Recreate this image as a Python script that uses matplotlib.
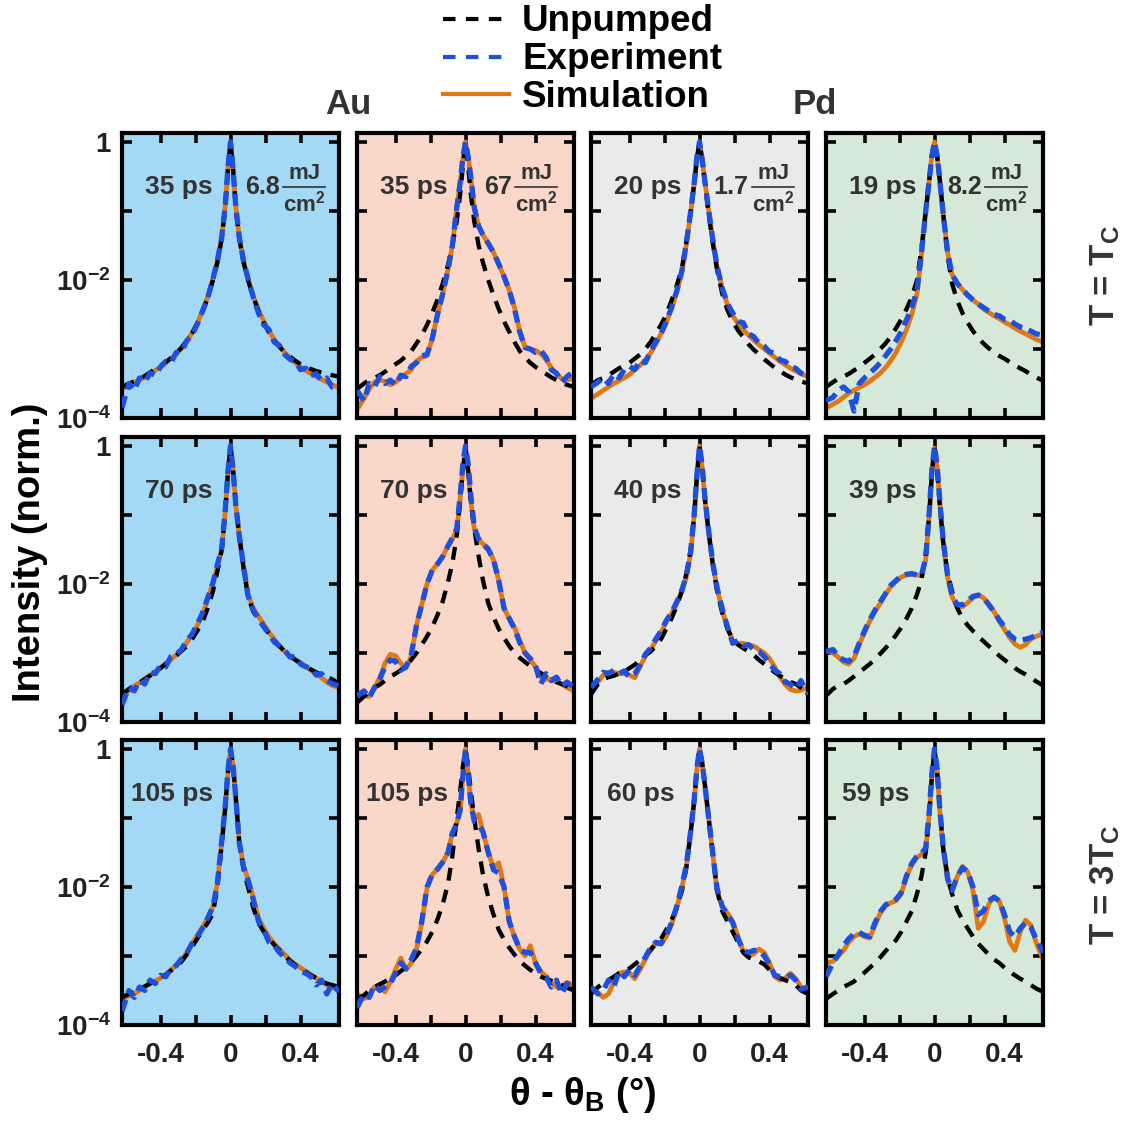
"""
Rocking curves of Au and Pd after optical pumping: unpumped, measured and simulated.
Output: out.png
"""
import matplotlib; matplotlib.use('Agg')
import matplotlib.pyplot as plt
from matplotlib.lines import Line2D
import numpy as np

plt.rcParams['font.family'] = 'Liberation Sans'
plt.rcParams['font.weight'] = 'bold'
plt.rcParams['mathtext.fontset'] = 'custom'
plt.rcParams['mathtext.rm'] = 'Liberation Sans:bold'
plt.rcParams['mathtext.it'] = 'Liberation Sans:bold'
plt.rcParams['mathtext.bf'] = 'Liberation Sans:bold'

# angle grid (deg), shared by every curve
theta = [
    -0.62, -0.58, -0.55, -0.52, -0.49, -0.46, -0.43, -0.40, -0.37, -0.34, -0.31,
    -0.28, -0.25, -0.22, -0.19, -0.16, -0.13, -0.10, -0.075, -0.05, -0.03, -0.015,
    0.0,
    0.015, 0.03, 0.05, 0.075, 0.10, 0.13, 0.16, 0.19, 0.22, 0.25, 0.28,
    0.31, 0.34, 0.37, 0.40, 0.43, 0.46, 0.49, 0.52, 0.55, 0.58, 0.62]

# log10 of normalised intensity
# ---- T = Tc, first delay ----
au_lo_35_unp = [
    -3.55, -3.5, -3.47, -3.44, -3.39, -3.34, -3.29, -3.24, -3.19, -3.13, -3.06,
    -2.98, -2.88, -2.77, -2.63, -2.46, -2.26, -2.0, -1.75, -1.4, -0.95, -0.4,
    0.0,
    -0.4, -0.95, -1.4, -1.75, -2.0, -2.25, -2.45, -2.62, -2.76, -2.88, -2.97,
    -3.05, -3.11, -3.17, -3.22, -3.26, -3.29, -3.32, -3.34, -3.36, -3.38, -3.4]
au_lo_35_exp = [
    -3.85, -3.5, -3.6, -3.42, -3.48, -3.35, -3.38, -3.26, -3.18, -3.2, -3.05,
    -3.04, -2.88, -2.8, -2.64, -2.45, -2.26, -1.98, -1.72, -1.38, -0.92, -0.38,
    0.0,
    -0.4, -0.93, -1.38, -1.73, -1.98, -2.25, -2.48, -2.65, -2.72, -2.9, -2.95,
    -3.08, -3.15, -3.18, -3.3, -3.28, -3.38, -3.36, -3.46, -3.42, -3.55, -3.52]
au_lo_35_sim = [
    -3.58, -3.52, -3.48, -3.45, -3.41, -3.36, -3.31, -3.26, -3.2, -3.14, -3.07,
    -2.99, -2.89, -2.77, -2.63, -2.45, -2.24, -1.98, -1.72, -1.38, -0.92, -0.4,
    0.0,
    -0.4, -0.93, -1.38, -1.73, -1.98, -2.23, -2.43, -2.6, -2.74, -2.86, -2.96,
    -3.05, -3.13, -3.2, -3.26, -3.31, -3.36, -3.4, -3.44, -3.48, -3.52, -3.56]

au_hi_35_unp = [
    -3.58, -3.5, -3.45, -3.42, -3.38, -3.33, -3.27, -3.22, -3.17, -3.1, -3.03,
    -2.92, -2.8, -2.65, -2.48, -2.28, -2.05, -1.78, -1.5, -1.15, -0.75, -0.35,
    0.0,
    -0.35, -0.75, -1.15, -1.5, -1.75, -2.0, -2.22, -2.42, -2.6, -2.75, -2.9,
    -3.03, -3.12, -3.2, -3.26, -3.31, -3.36, -3.41, -3.45, -3.49, -3.52, -3.55]
au_hi_35_exp = [
    -3.6, -3.75, -3.5, -3.55, -3.4, -3.5, -3.45, -3.52, -3.38, -3.4, -3.25,
    -3.2, -3.1, -3.08, -2.85, -2.5, -2.2, -1.85, -1.5, -0.95, -0.58, -0.22,
    0.0,
    -0.22, -0.5, -0.95, -1.22, -1.35, -1.47, -1.6, -1.77, -1.95, -2.15, -2.42,
    -2.75, -2.98, -3.0, -3.05, -3.02, -3.12, -3.3, -3.35, -3.48, -3.4, -3.32]
au_hi_35_sim = [
    -3.88, -3.72, -3.58, -3.48, -3.45, -3.47, -3.52, -3.48, -3.42, -3.36, -3.3,
    -3.18, -3.12, -3.1, -2.85, -2.5, -2.2, -1.85, -1.5, -0.95, -0.58, -0.25,
    0.0,
    -0.2, -0.5, -0.95, -1.22, -1.35, -1.47, -1.6, -1.77, -1.95, -2.15, -2.4,
    -2.75, -2.97, -3.0, -3.02, -3.07, -3.15, -3.27, -3.36, -3.43, -3.45, -3.42]

pd_lo_20_unp = [
    -3.52, -3.45, -3.42, -3.38, -3.33, -3.28, -3.24, -3.2, -3.14, -3.08, -3.0,
    -2.9, -2.78, -2.65, -2.5, -2.3, -2.08, -1.82, -1.45, -1.0, -0.6, -0.25,
    0.0,
    -0.25, -0.58, -1.0, -1.45, -1.85, -2.2, -2.44, -2.6, -2.73, -2.83, -2.93,
    -3.01, -3.08, -3.15, -3.21, -3.27, -3.32, -3.37, -3.41, -3.44, -3.47, -3.5]
pd_lo_20_exp = [
    -3.55, -3.48, -3.42, -3.5, -3.36, -3.42, -3.3, -3.25, -3.3, -3.16, -3.2,
    -3.04, -2.9, -2.78, -2.6, -2.4, -2.16, -1.86, -1.46, -1.0, -0.58, -0.22,
    0.0,
    -0.25, -0.55, -0.95, -1.4, -1.8, -2.12, -2.34, -2.48, -2.6, -2.62, -2.78,
    -2.82, -2.92, -2.96, -3.04, -3.06, -3.16, -3.18, -3.26, -3.28, -3.35, -3.38]
pd_lo_20_sim = [
    -3.72, -3.65, -3.6, -3.55, -3.5, -3.46, -3.42, -3.37, -3.3, -3.24, -3.16,
    -3.06, -2.93, -2.78, -2.62, -2.42, -2.18, -1.88, -1.48, -1.02, -0.6, -0.25,
    0.0,
    -0.25, -0.55, -0.95, -1.4, -1.8, -2.12, -2.36, -2.52, -2.63, -2.72, -2.8,
    -2.87, -2.94, -3.0, -3.06, -3.12, -3.18, -3.23, -3.28, -3.32, -3.36, -3.4]

pd_hi_19_unp = [
    -3.55, -3.48, -3.43, -3.4, -3.36, -3.31, -3.26, -3.2, -3.14, -3.08, -3.0,
    -2.92, -2.82, -2.7, -2.57, -2.42, -2.25, -2.0, -1.55, -1.0, -0.55, -0.2,
    0.0,
    -0.2, -0.55, -1.05, -1.65, -2.05, -2.3, -2.48, -2.62, -2.74, -2.84, -2.92,
    -2.99, -3.05, -3.1, -3.14, -3.19, -3.24, -3.28, -3.32, -3.37, -3.41, -3.46]
pd_hi_19_exp = [
    -3.75, -3.7, -3.6, -3.55, -3.62, -3.9, -3.5, -3.42, -3.35, -3.28, -3.2,
    -3.1, -3.0, -2.88, -2.75, -2.58, -2.4, -2.15, -1.62, -1.0, -0.55, -0.2,
    0.0,
    -0.2, -0.55, -1.05, -1.6, -1.92, -2.05, -2.14, -2.22, -2.29, -2.35, -2.4,
    -2.45, -2.5, -2.52, -2.57, -2.58, -2.64, -2.68, -2.7, -2.74, -2.78, -2.8]
pd_hi_19_sim = [
    -3.86, -3.8, -3.76, -3.7, -3.64, -3.6, -3.56, -3.52, -3.47, -3.41, -3.35,
    -3.27, -3.17, -3.05, -2.9, -2.72, -2.5, -2.2, -1.65, -1.0, -0.55, -0.2,
    0.0,
    -0.2, -0.55, -1.05, -1.6, -1.92, -2.05, -2.14, -2.22, -2.29, -2.35, -2.42,
    -2.47, -2.52, -2.56, -2.61, -2.65, -2.7, -2.74, -2.78, -2.82, -2.86, -2.9]

# ---- second delay ----
au_lo_70_unp = [
    -3.6, -3.52, -3.47, -3.43, -3.38, -3.33, -3.28, -3.22, -3.16, -3.1, -3.04,
    -2.97, -2.9, -2.8, -2.68, -2.55, -2.35, -2.1, -1.82, -1.5, -0.95, -0.4,
    0.0,
    -0.35, -0.85, -1.3, -1.78, -2.18, -2.4, -2.52, -2.62, -2.72, -2.82, -2.9,
    -2.98, -3.04, -3.1, -3.15, -3.2, -3.24, -3.28, -3.32, -3.35, -3.38, -3.44]
au_lo_70_exp = [
    -3.75, -3.5, -3.55, -3.4, -3.45, -3.28, -3.3, -3.18, -3.2, -3.05, -3.02,
    -2.95, -2.82, -2.73, -2.58, -2.42, -2.2, -1.98, -1.72, -1.48, -0.92, -0.38,
    0.0,
    -0.35, -0.85, -1.3, -1.75, -2.17, -2.38, -2.5, -2.62, -2.72, -2.84, -2.9,
    -2.96, -3.06, -3.05, -3.16, -3.2, -3.22, -3.32, -3.3, -3.4, -3.44, -3.48]
au_lo_70_sim = [
    -3.62, -3.55, -3.48, -3.43, -3.37, -3.32, -3.27, -3.21, -3.15, -3.09, -3.03,
    -2.95, -2.85, -2.73, -2.6, -2.45, -2.22, -1.98, -1.75, -1.5, -0.95, -0.4,
    0.0,
    -0.35, -0.85, -1.3, -1.75, -2.15, -2.35, -2.47, -2.58, -2.7, -2.8, -2.9,
    -2.98, -3.04, -3.09, -3.14, -3.19, -3.25, -3.3, -3.36, -3.42, -3.47, -3.5]

au_hi_70_unp = [
    -3.72, -3.63, -3.57, -3.5, -3.46, -3.4, -3.34, -3.3, -3.25, -3.18, -3.1,
    -3.0, -2.88, -2.76, -2.62, -2.45, -2.25, -1.97, -1.7, -1.3, -0.8, -0.35,
    0.0,
    -0.35, -0.8, -1.2, -1.6, -1.95, -2.28, -2.48, -2.65, -2.78, -2.9, -3.0,
    -3.07, -3.13, -3.19, -3.25, -3.29, -3.34, -3.39, -3.42, -3.45, -3.48, -3.52]
au_hi_70_exp = [
    -3.62, -3.55, -3.65, -3.5, -3.38, -3.2, -3.1, -3.12, -3.25, -3.2, -3.02,
    -2.6, -2.3, -2.0, -1.8, -1.71, -1.6, -1.45, -1.33, -1.2, -0.7, -0.25,
    0.0,
    -0.25, -0.7, -1.18, -1.35, -1.42, -1.5, -1.65, -1.95, -2.35, -2.5, -2.65,
    -2.85, -3.0, -3.08, -3.18, -3.45, -3.3, -3.4, -3.35, -3.48, -3.42, -3.5]
au_hi_70_sim = [
    -3.57, -3.62, -3.63, -3.5, -3.36, -3.15, -3.02, -3.04, -3.15, -3.22, -3.05,
    -2.6, -2.3, -2.0, -1.8, -1.71, -1.6, -1.45, -1.35, -1.22, -0.75, -0.35,
    -0.1,
    -0.35, -0.78, -1.2, -1.35, -1.42, -1.48, -1.65, -1.95, -2.35, -2.5, -2.63,
    -2.82, -3.0, -3.1, -3.2, -3.35, -3.38, -3.38, -3.42, -3.45, -3.5, -3.55]

pd_lo_40_unp = [
    -3.6, -3.45, -3.38, -3.35, -3.33, -3.3, -3.27, -3.22, -3.17, -3.1, -3.03,
    -2.98, -2.9, -2.8, -2.65, -2.5, -2.32, -2.1, -1.85, -1.5, -1.0, -0.45,
    0.0,
    -0.3, -0.75, -1.2, -1.7, -2.1, -2.42, -2.65, -2.8, -2.88, -2.93, -2.98,
    -3.03, -3.1, -3.16, -3.22, -3.28, -3.33, -3.38, -3.42, -3.45, -3.5, -3.55]
pd_lo_40_exp = [
    -3.5, -3.38, -3.28, -3.3, -3.25, -3.3, -3.26, -3.35, -3.3, -3.18, -3.02,
    -2.93, -2.8, -2.68, -2.53, -2.42, -2.26, -2.08, -1.88, -1.52, -0.98, -0.42,
    0.0,
    -0.28, -0.72, -1.18, -1.68, -2.05, -2.36, -2.62, -2.86, -2.82, -2.9, -2.88,
    -2.95, -2.98, -3.05, -3.15, -3.25, -3.3, -3.42, -3.45, -3.52, -3.4, -3.6]
pd_lo_40_sim = [
    -3.57, -3.42, -3.32, -3.28, -3.28, -3.3, -3.3, -3.32, -3.36, -3.2, -3.05,
    -2.95, -2.83, -2.7, -2.55, -2.43, -2.28, -2.1, -1.9, -1.55, -1.0, -0.45,
    0.0,
    -0.3, -0.75, -1.2, -1.7, -2.05, -2.38, -2.65, -2.82, -2.86, -2.86, -2.88,
    -2.9, -2.95, -3.0, -3.08, -3.2, -3.35, -3.46, -3.53, -3.55, -3.54, -3.5]

pd_hi_39_unp = [
    -3.62, -3.52, -3.48, -3.45, -3.4, -3.34, -3.28, -3.22, -3.16, -3.09, -3.01,
    -2.93, -2.84, -2.74, -2.63, -2.5, -2.35, -2.15, -1.95, -1.55, -1.0, -0.4,
    0.0,
    -0.35, -0.85, -1.4, -1.85, -2.1, -2.35, -2.5, -2.6, -2.68, -2.76, -2.83,
    -2.9, -2.97, -3.04, -3.1, -3.16, -3.22, -3.27, -3.31, -3.36, -3.41, -3.47]
pd_hi_39_exp = [
    -2.98, -2.95, -3.05, -3.1, -3.12, -3.05, -2.86, -2.68, -2.52, -2.38, -2.26,
    -2.14, -2.02, -1.95, -1.88, -1.86, -1.85, -1.87, -1.88, -1.62, -0.95, -0.35,
    0.0,
    -0.28, -0.78, -1.38, -1.88, -2.16, -2.3, -2.3, -2.24, -2.18, -2.16, -2.2,
    -2.3, -2.4, -2.52, -2.62, -2.74, -2.8, -2.82, -2.8, -2.78, -2.74, -2.7]
pd_hi_39_sim = [
    -2.95, -3.0, -3.06, -3.13, -3.16, -3.08, -2.88, -2.7, -2.54, -2.4, -2.28,
    -2.15, -2.04, -1.96, -1.9, -1.87, -1.86, -1.87, -1.88, -1.65, -1.0, -0.4,
    -0.03,
    -0.3, -0.8, -1.4, -1.9, -2.18, -2.34, -2.33, -2.27, -2.2, -2.16, -2.2,
    -2.29, -2.4, -2.54, -2.66, -2.78, -2.87, -2.92, -2.88, -2.8, -2.76, -2.72]

# ---- T = 3Tc, third delay ----
au_lo_105_unp = [
    -3.6, -3.55, -3.52, -3.48, -3.44, -3.4, -3.36, -3.32, -3.27, -3.21, -3.15,
    -3.08, -2.98, -2.87, -2.75, -2.63, -2.52, -2.38, -2.0, -1.38, -0.85, -0.35,
    0.0,
    -0.25, -0.7, -1.35, -1.75, -2.0, -2.3, -2.52, -2.65, -2.75, -2.84, -2.92,
    -3.0, -3.07, -3.13, -3.18, -3.23, -3.28, -3.32, -3.36, -3.4, -3.42, -3.45]
au_lo_105_exp = [
    -3.8, -3.5, -3.6, -3.45, -3.5, -3.35, -3.4, -3.28, -3.3, -3.18, -3.14,
    -3.04, -2.96, -2.82, -2.72, -2.6, -2.45, -2.28, -1.95, -1.33, -0.82, -0.32,
    0.0,
    -0.25, -0.7, -1.35, -1.72, -1.9, -2.18, -2.5, -2.62, -2.8, -2.85, -2.95,
    -3.02, -3.1, -3.15, -3.22, -3.25, -3.3, -3.42, -3.35, -3.55, -3.4, -3.52]
au_lo_105_sim = [
    -3.62, -3.58, -3.55, -3.5, -3.45, -3.4, -3.36, -3.32, -3.27, -3.2, -3.13,
    -3.06, -2.95, -2.82, -2.7, -2.58, -2.45, -2.28, -1.95, -1.35, -0.85, -0.35,
    0.0,
    -0.25, -0.7, -1.35, -1.7, -1.88, -2.15, -2.45, -2.6, -2.72, -2.82, -2.9,
    -2.98, -3.06, -3.12, -3.17, -3.22, -3.27, -3.32, -3.37, -3.42, -3.45, -3.5]

au_hi_105_unp = [
    -3.62, -3.57, -3.5, -3.45, -3.41, -3.37, -3.32, -3.28, -3.22, -3.16, -3.09,
    -3.0, -2.9, -2.79, -2.65, -2.47, -2.25, -1.95, -1.55, -1.0, -0.6, -0.25,
    0.0,
    -0.25, -0.6, -1.0, -1.45, -1.82, -2.15, -2.4, -2.62, -2.76, -2.88, -2.98,
    -3.07, -3.14, -3.2, -3.26, -3.3, -3.33, -3.36, -3.39, -3.42, -3.46, -3.5]
au_hi_105_exp = [
    -3.75, -3.55, -3.6, -3.42, -3.5, -3.45, -3.4, -3.25, -3.1, -3.18, -3.05,
    -2.88, -2.5, -2.0, -1.82, -1.74, -1.64, -1.5, -1.22, -1.08, -0.88, -0.38,
    0.0,
    -0.35, -0.78, -1.05, -1.1, -1.2, -1.5, -1.75, -1.8, -2.0, -2.5, -2.72,
    -2.9, -2.95, -2.95, -3.1, -3.25, -3.3, -3.45, -3.35, -3.55, -3.4, -3.42]
au_hi_105_sim = [
    -3.55, -3.62, -3.57, -3.45, -3.42, -3.52, -3.38, -3.2, -3.03, -3.2, -3.1,
    -2.9, -2.52, -2.02, -1.82, -1.74, -1.64, -1.5, -1.22, -1.08, -0.88, -0.4,
    0.0,
    -0.35, -0.78, -1.0, -0.95, -1.2, -1.5, -1.72, -1.65, -2.0, -2.5, -2.72,
    -2.9, -3.0, -2.85, -3.1, -3.22, -3.3, -3.38, -3.45, -3.45, -3.38, -3.45]

pd_lo_60_unp = [
    -3.55, -3.45, -3.4, -3.35, -3.3, -3.25, -3.22, -3.18, -3.12, -3.06, -3.0,
    -2.92, -2.82, -2.75, -2.62, -2.48, -2.3, -2.05, -1.72, -1.2, -0.75, -0.3,
    0.0,
    -0.2, -0.5, -0.95, -1.5, -2.05, -2.35, -2.5, -2.65, -2.8, -2.95, -3.02,
    -3.05, -3.08, -3.12, -3.2, -3.28, -3.32, -3.35, -3.38, -3.42, -3.5, -3.55]
pd_lo_60_exp = [
    -3.45, -3.55, -3.5, -3.35, -3.45, -3.22, -3.3, -3.2, -3.28, -3.15, -3.02,
    -2.88, -2.8, -2.82, -2.7, -2.52, -2.28, -1.98, -1.68, -1.18, -0.72, -0.28,
    0.0,
    -0.2, -0.5, -0.95, -1.5, -2.02, -2.28, -2.4, -2.52, -2.75, -2.92, -2.95,
    -2.92, -2.92, -3.0, -3.12, -3.28, -3.3, -3.3, -3.28, -3.35, -3.48, -3.45]
pd_lo_60_sim = [
    -3.5, -3.53, -3.6, -3.55, -3.38, -3.25, -3.23, -3.25, -3.33, -3.2, -3.05,
    -2.9, -2.82, -2.83, -2.72, -2.55, -2.3, -2.0, -1.7, -1.2, -0.75, -0.3,
    0.0,
    -0.2, -0.5, -0.95, -1.5, -2.05, -2.28, -2.38, -2.5, -2.72, -2.93, -3.0,
    -2.97, -2.9, -2.95, -3.1, -3.3, -3.35, -3.32, -3.25, -3.33, -3.45, -3.5]

pd_hi_59_unp = [
    -3.62, -3.55, -3.5, -3.45, -3.41, -3.37, -3.3, -3.24, -3.17, -3.1, -3.02,
    -2.93, -2.85, -2.77, -2.65, -2.5, -2.35, -2.1, -1.85, -1.5, -0.95, -0.4,
    0.0,
    -0.35, -0.85, -1.45, -1.85, -2.1, -2.33, -2.48, -2.6, -2.72, -2.82, -2.9,
    -2.98, -3.05, -3.1, -3.17, -3.23, -3.28, -3.33, -3.37, -3.42, -3.47, -3.52]
pd_hi_59_exp = [
    -3.3, -3.1, -2.98, -2.85, -2.75, -2.68, -2.66, -2.7, -2.72, -2.52, -2.36,
    -2.26, -2.22, -2.18, -2.08, -1.84, -1.66, -1.55, -1.52, -1.43, -0.9, -0.35,
    0.0,
    -0.28, -0.85, -1.42, -1.88, -2.05, -1.85, -1.72, -1.78, -2.0, -2.4, -2.35,
    -2.2, -2.15, -2.2, -2.4, -2.65, -2.72, -2.6, -2.52, -2.58, -2.75, -2.95]
pd_hi_59_sim = [
    -3.1, -3.08, -3.0, -2.92, -2.8, -2.72, -2.68, -2.72, -2.74, -2.55, -2.38,
    -2.27, -2.23, -2.2, -2.1, -1.85, -1.68, -1.57, -1.53, -1.45, -0.95, -0.4,
    -0.03,
    -0.3, -0.9, -1.45, -1.9, -2.07, -1.85, -1.7, -1.78, -2.05, -2.6, -2.5,
    -2.25, -2.14, -2.2, -2.45, -2.8, -2.92, -2.65, -2.48, -2.55, -2.8, -3.05]

delays = [['35 ps', '35 ps', '20 ps', '19 ps'],
          ['70 ps', '70 ps', '40 ps', '39 ps'],
          ['105 ps', '105 ps', '60 ps', '59 ps']]
fluences = ['6.8', '67', '1.7', '8.2']

curves = [
    [(au_lo_35_unp, au_lo_35_exp, au_lo_35_sim), (au_hi_35_unp, au_hi_35_exp, au_hi_35_sim),
     (pd_lo_20_unp, pd_lo_20_exp, pd_lo_20_sim), (pd_hi_19_unp, pd_hi_19_exp, pd_hi_19_sim)],
    [(au_lo_70_unp, au_lo_70_exp, au_lo_70_sim), (au_hi_70_unp, au_hi_70_exp, au_hi_70_sim),
     (pd_lo_40_unp, pd_lo_40_exp, pd_lo_40_sim), (pd_hi_39_unp, pd_hi_39_exp, pd_hi_39_sim)],
    [(au_lo_105_unp, au_lo_105_exp, au_lo_105_sim), (au_hi_105_unp, au_hi_105_exp, au_hi_105_sim),
     (pd_lo_60_unp, pd_lo_60_exp, pd_lo_60_sim), (pd_hi_59_unp, pd_hi_59_exp, pd_hi_59_sim)],
]

bg = ['#a4d9f5', '#f9d8ca', '#e9eaea', '#d6e8d7']
BLUE = '#1f50dc'
ORANGE = '#e07814'
TXT = '#333333'

W, H = 1130, 1121
fig = plt.figure(figsize=(W / 100, H / 100), dpi=100)

col_left = [122, 357, 591, 826]
row_top = [133, 437, 740]
aw, ah = 217, 285

x = np.array(theta)
for r in range(3):
    for c in range(4):
        ax = fig.add_axes([col_left[c] / W, 1 - (row_top[r] + ah) / H, aw / W, ah / H])
        ax.set_facecolor(bg[c])
        unp, exp_, sim = curves[r][c]
        ax.plot(x, 10 ** np.array(sim), color=ORANGE, lw=3.4, zorder=2)
        ax.plot(x, 10 ** np.array(unp), color='k', lw=3.1, dashes=(3, 2.2), zorder=3)
        ax.plot(x, 10 ** np.array(exp_), color=BLUE, lw=3.8, dashes=(2.3, 1.3), zorder=4)

        ax.set_yscale('log')
        ax.set_ylim(1e-4, 10 ** 0.13)
        ax.set_xlim(-0.62, 0.62)
        ax.set_yticks([1e-4, 1e-3, 1e-2, 1e-1, 1])
        ax.yaxis.set_minor_locator(plt.NullLocator())
        ax.set_xticks([-0.4, -0.2, 0, 0.2, 0.4])
        if c == 0:
            ax.set_yticklabels([r'$10^{-4}$', '', r'$10^{-2}$', '', '1'])
        else:
            ax.set_yticklabels([])
        if r == 2:
            ax.set_xticklabels(['-0.4', '', '0', '', '0.4'])
        else:
            ax.set_xticklabels([])
        ax.tick_params(which='both', direction='in', top=True, right=True,
                       length=7, width=2.6, labelsize=20, colors='k',
                       labelcolor='#222222')
        ax.tick_params(axis='x', pad=12)
        ax.tick_params(axis='y', pad=8)
        for s in ax.spines.values():
            s.set_linewidth(3)

        # delay label
        lx = 0.26 if r < 2 else 0.23
        ax.text(lx, 0.81, delays[r][c], transform=ax.transAxes, ha='center',
                va='center', fontsize=19, color=TXT, fontweight='bold', zorder=6)

        # fluence label on the first row
        if r == 0:
            fx0 = [0.742, 0.728, 0.742, 0.733][c]
            ax.text(fx0 - 0.015, 0.81, fluences[c], transform=ax.transAxes,
                    ha='right', va='center', fontsize=18, color=TXT, zorder=6)
            ax.plot([fx0, fx0 + 0.195], [0.81, 0.81], transform=ax.transAxes,
                    color=TXT, lw=1.2, clip_on=False, zorder=6)
            ax.text(fx0 + 0.0975, 0.822, 'mJ', transform=ax.transAxes,
                    ha='center', va='bottom', fontsize=16, color=TXT, zorder=6)
            ax.text(fx0 + 0.0975, 0.797, r'cm$^{2}$', transform=ax.transAxes,
                    ha='center', va='top', fontsize=16, color=TXT, zorder=6)

# legend at the top
handles = [Line2D([], [], color='k', lw=3, dashes=(3, 2.5)),
           Line2D([], [], color=BLUE, lw=3, dashes=(3, 2.5)),
           Line2D([], [], color=ORANGE, lw=3)]
fig.legend(handles, ['Unpumped', 'Experiment', 'Simulation'], loc='upper left',
           bbox_to_anchor=(0.392, 0.996), frameon=False, handlelength=1.8,
           handletextpad=0.35, labelspacing=0.08, borderpad=0, borderaxespad=0,
           prop={'size': 26.5, 'weight': 'bold'})

fig.text(348 / W, 1 - 104 / H, 'Au', ha='center', va='center', fontsize=25, color=TXT)
fig.text(815 / W, 1 - 104 / H, 'Pd', ha='center', va='center', fontsize=25, color=TXT)
fig.text(1105 / W, 1 - 275 / H, r'T = T$_{C}$', rotation=90, ha='center', va='center',
         fontsize=25, color=TXT)
fig.text(1105 / W, 1 - 885 / H, r'T = 3T$_{C}$', rotation=90, ha='center', va='center',
         fontsize=25, color=TXT)
fig.text(30 / W, 1 - 552 / H, 'Intensity (norm.)', rotation=90, ha='center', va='center',
         fontsize=27.5, color='k')
fig.text(583 / W, 1 - 1095 / H, r'θ - θ$_{B}$ (°)', ha='center', va='center',
         fontsize=27.5, color='k')

fig.savefig('out.png', dpi=100)
